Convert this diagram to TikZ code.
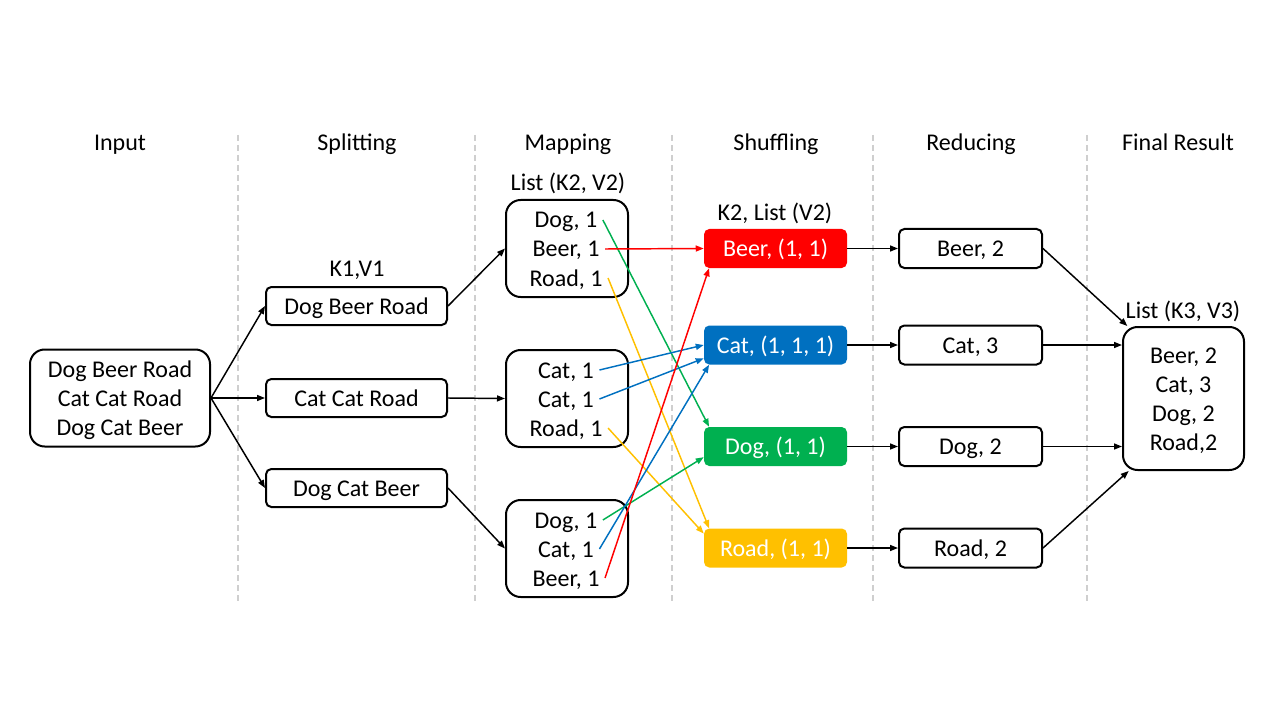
\documentclass[tikz,border=0pt]{standalone}
\usepackage{fontspec}
\setmainfont{Carlito}
\usepackage{tikz}
\usetikzlibrary{arrows.meta}

\definecolor{beerred}{HTML}{FF0000}
\definecolor{catblue}{HTML}{0070C0}
\definecolor{doggreen}{HTML}{00B050}
\definecolor{roadgold}{HTML}{FFC000}
\definecolor{sepgray}{HTML}{CFCFCF}

\begin{document}
\begin{tikzpicture}[x=0.75pt,y=-0.75pt,
        font=\fontsize{18}{21.75}\selectfont,
        every node/.style={inner sep=0pt,text height=14pt,text depth=2pt},
        multi/.style={align=center,text height=,text depth=},
        sep/.style={sepgray,line width=1.1pt,dash pattern=on 4.5pt off 3pt},
        arr/.style={line width=1.1pt,-{Triangle[length=6pt,width=4.5pt]}},
        carr/.style={line width=1.1pt,-{Triangle[length=6pt,width=4.5pt]},#1},
        bigbox/.style={draw,line width=1.5pt,rounded corners=11pt,minimum width=#1,minimum height=72.75pt},
        splitbox/.style={draw,line width=1.5pt,rounded corners=4pt,minimum width=135.75pt,minimum height=28.5pt},
        redbox/.style={draw,line width=1.5pt,rounded corners=4pt,minimum width=107.25pt,minimum height=29.25pt},
        shufbox/.style={fill=#1,text=white,rounded corners=4pt,minimum width=107.25pt,minimum height=29.25pt},
        line/.style={inner xsep=4pt}]
        \useasboundingbox (0,0) rectangle (1280,720);
        \draw[sep] (238,135) -- (238,605);
        \draw[sep] (475,135) -- (475,605);
        \draw[sep] (672,135) -- (672,605);
        \draw[sep] (873,135) -- (873,605);
        \draw[sep] (1087,135) -- (1087,605);
        \node (hInput) at (120,143) {Input};
        \node (hSplit) at (357,143) {Splitting};
        \node (hMap) at (568,143) {Mapping};
        \node (hShuf) at (776,143) {Shuffling};
        \node (hRed) at (971,143) {Reducing};
        \node (hFinal) at (1178,143) {Final Result};
        \node[bigbox=135pt,multi] (input) at (120,398) {\rule{0pt}{15.5pt}Dog Beer Road\\Cat Cat Road\\Dog Cat Beer};
        \node[splitbox] (sDog) at (356.5,306) {Dog Beer Road};
        \node[splitbox] (sCat) at (356.5,398) {Cat Cat Road};
        \node[splitbox] (sBeer) at (356.5,488) {Dog Cat Beer};
        \node (kv1) at (357,268) {K1,V1};
        \node[bigbox=91.5pt] (map1) at (567,248.5) {};
        \node[bigbox=91.5pt] (map2) at (567,398.5) {};
        \node[bigbox=91.5pt] (map3) at (567,548.5) {};
        \node (kv2) at (568,183) {List (K2, V2)};
        \node[line] (m1dog) at (566,220) {Dog, 1};
        \node[line] (m1beer) at (566,249) {Beer, 1};
        \node[line] (m1road) at (566,278) {Road, 1};
        \node[line] (m2cat1) at (566,370) {Cat, 1};
        \node[line] (m2cat2) at (566,399) {Cat, 1};
        \node[line] (m2road) at (566,428) {Road, 1};
        \node[line] (m3dog) at (566,520) {Dog, 1};
        \node[line] (m3cat) at (566,549) {Cat, 1};
        \node[line] (m3beer) at (566,578) {Beer, 1};
        \node (kv2b) at (775,212) {K2, List (V2)};
        \node[shufbox=beerred] (beerS) at (775.5,248.5) {Beer, (1, 1)};
        \node[shufbox=catblue] (catS) at (775.5,345) {Cat, (1, 1, 1)};
        \node[shufbox=doggreen] (dogS) at (775.5,446.5) {Dog, (1, 1)};
        \node[shufbox=roadgold] (roadS) at (775.5,548) {Road, (1, 1)};
        \node[redbox] (beerR) at (970.5,248.5) {Beer, 2};
        \node[redbox] (catR) at (970.5,345) {Cat, 3};
        \node[redbox] (dogR) at (970.5,446.5) {Dog, 2};
        \node[redbox] (roadR) at (970.5,548) {Road, 2};
        \node[draw,line width=1.5pt,rounded corners=11pt,minimum width=90.75pt,minimum height=107.25pt,multi] (final) at (1183.5,398.5) {\rule{0pt}{15.5pt}Beer, 2\\Cat, 3\\Dog, 2\\Road,2};
        \node (kv3) at (1183,310) {List (K3, V3)};
        \draw[arr] (input.east) -- (sDog.west);
        \draw[arr] (input.east) -- (sCat.west);
        \draw[arr] (input.east) -- (sBeer.west);
        \draw[arr] (sDog.east) -- (map1.west);
        \draw[arr] (sCat.east) -- (map2.west);
        \draw[arr] (sBeer.east) -- (map3.west);
        \draw[carr=doggreen] (m1dog.east) -- ([xshift=4pt]dogS.north west);
        \draw[carr=beerred] (m1beer.east) -- (beerS.west);
        \draw[carr=roadgold] (m1road.east) -- ([xshift=4pt]roadS.north west);
        \draw[carr=catblue] (m2cat1.east) -- (catS.west);
        \draw[carr=catblue] (m2cat2.east) -- ([yshift=-10pt]catS.west);
        \draw[carr=roadgold] (m2road.east) -- ([yshift=-4pt]roadS.north west);
        \draw[carr=doggreen] (m3dog.east) -- ([yshift=-8pt]dogS.west);
        \draw[carr=catblue] (m3cat.east) -- ([xshift=4pt]catS.south west);
        \draw[carr=beerred] (m3beer.east) -- ([xshift=4pt]beerS.south west);
        \draw[arr] (beerS.east) -- (beerR.west);
        \draw[arr] (catS.east) -- (catR.west);
        \draw[arr] (dogS.east) -- (dogR.west);
        \draw[arr] (roadS.east) -- (roadR.west);
        \draw[arr] (beerR.east) -- ([xshift=4pt]final.north west);
        \draw[arr] (catR.east) -- (catR.east -| final.west);
        \draw[arr] (dogR.east) -- (dogR.east -| final.west);
        \draw[arr] (roadR.east) -- ([xshift=5pt]final.south west);
    \end{tikzpicture}
\end{document}
